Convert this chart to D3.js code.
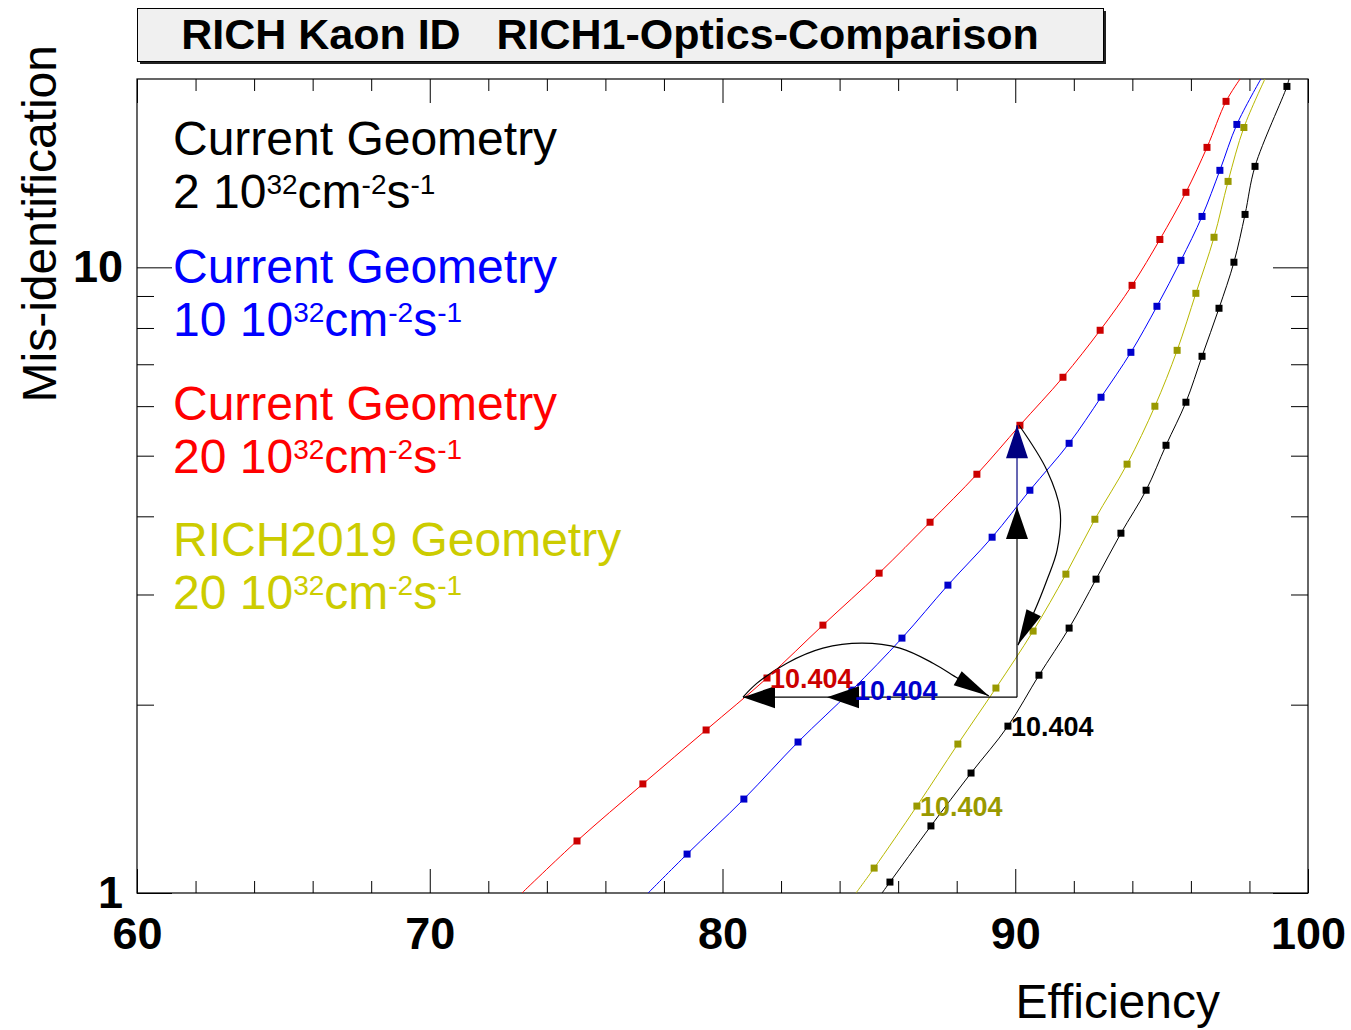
<!DOCTYPE html>
<html>
<head>
<meta charset="utf-8">
<script src="https://cdn.jsdelivr.net/npm/d3@7"></script>
<style>
  body { margin: 0; background: #fff; }
  svg text { font-family: "Liberation Sans", Arial, Helvetica, sans-serif; }
</style>
</head>
<body>
<script>
// efficiency (%) and mis-identification (%)
const blackEff = [85.72, 87.12, 88.49, 89.75, 90.81, 91.84, 92.76, 93.61, 94.47, 95.15, 95.83, 96.38, 96.96, 97.47, 97.85, 98.19, 99.28]
const blackMis = [1.041, 1.280, 1.555, 1.848, 2.229, 2.651, 3.174, 3.759, 4.403, 5.195, 6.087, 7.208, 8.602, 10.19, 12.15, 14.50, 19.46]
const blackEdge = [[85.45, 1], [99.35, 20]]

const blueEff = [78.79, 80.73, 82.58, 84.42, 86.13, 87.70, 89.21, 90.50, 91.84, 92.93, 93.95, 94.84, 95.66, 96.38, 96.99, 97.57]
const blueMis = [1.154, 1.413, 1.743, 2.110, 2.555, 3.105, 3.704, 4.403, 5.233, 6.200, 7.314, 8.664, 10.26, 12.06, 14.29, 16.92]
const blueEdge = [[77.46, 1], [98.39, 20]]

const redEff = [75.03, 77.28, 79.44, 81.52, 83.43, 85.35, 87.09, 88.69, 90.16, 91.63, 92.90, 93.99, 94.94, 95.83, 96.55, 97.20]
const redMis = [1.211, 1.494, 1.822, 2.206, 2.680, 3.245, 3.914, 4.670, 5.592, 6.673, 7.933, 9.359, 11.08, 13.18, 15.55, 18.42]
const redEdge = [[73.15, 1], [97.68, 20]]

const yelEff = [85.18, 86.64, 88.04, 89.34, 90.61, 91.73, 92.72, 93.82, 94.77, 95.53, 96.17, 96.79, 97.27, 97.81]
const yelMis = [1.096, 1.377, 1.730, 2.126, 2.622, 3.233, 3.957, 4.846, 5.998, 7.368, 9.088, 11.17, 13.72, 16.73]
const yelEdge = [[84.56, 1], [98.53, 20]]

const pointLabel = "10.404"
const labelIndex = [3, 3, 3, 1]   // black, blue, red, yellow

const legendTitles = ["Current Geometry", "Current Geometry", "Current Geometry", "RICH2019 Geometry"]
const legendLumi = ["2", "10", "20", "20"]

const xMajor = [60, 70, 80, 90, 100]
const xMinor = [62, 64, 66, 68, 72, 74, 76, 78, 82, 84, 86, 88, 92, 94, 96, 98]
const yMajor = [1, 10]
const yMinor = [2, 3, 4, 5, 6, 7, 8, 9]

// comparison arrows at 90% efficiency
const arrowEff = 90.06
const arrowMis = 2.056
const hArrowTips = [80.70, 83.57]
const vBlackTop = 4.138
const vNavyTop = 5.592
const curveDown = [[90.13, 5.592], [91.08, 4.740], [91.53, 4.091], [91.43, 3.531], [91.08, 3.162], [90.64, 2.811], [90.09, 2.490]]
const curveRight = [[80.70, 2.056], [81.18, 2.165], [82.20, 2.330], [83.43, 2.462], [84.77, 2.508], [86.06, 2.462], [87.19, 2.330], [88.06, 2.201], [89.10, 2.064]]

const W = 1351, H = 1030
const fL = 137, fR = 1308, fT = 79, fB = 893

const x = d3.scaleLinear().domain([60, 100]).range([fL, fR])
const y = d3.scaleLog().domain([1, 20]).range([fB, fT])

const svg = d3.select("body").append("svg").attr("width", W).attr("height", H)

// title box
svg.append("rect").attr("x", 140).attr("y", 11).attr("width", 966).attr("height", 53).attr("fill", "#222")
svg.append("rect").attr("x", 137.5).attr("y", 8.5).attr("width", 966).attr("height", 53)
  .attr("fill", "#f0f0f0").attr("stroke", "#000").attr("stroke-width", 1)
svg.append("text").attr("x", 610).attr("y", 49).attr("text-anchor", "middle")
  .attr("font-size", 43).attr("font-weight", "bold").style("white-space", "pre")
  .text("RICH Kaon ID   RICH1-Optics-Comparison")

svg.append("defs").append("clipPath").attr("id", "frame")
  .append("rect").attr("x", fL).attr("y", fT).attr("width", fR - fL).attr("height", fB - fT)

// axes with inward ticks
function tickAxis(axis, pad, vals, size, tr, labels) {
  const g = svg.append("g").attr("transform", tr)
    .call(axis.tickValues(vals).tickSize(size).tickPadding(pad).tickFormat(labels ? d3.format("d") : ""))
  g.select(".domain").remove()
  g.selectAll("line").attr("stroke", "#000")
  g.selectAll("text").attr("font-size", 45).attr("font-weight", "bold").attr("fill", "#000")
    .attr("font-family", "Liberation Sans, Arial, sans-serif")
  return g
}
tickAxis(d3.axisBottom(x), 24, xMajor, -24, `translate(0,${fB})`, true)
tickAxis(d3.axisBottom(x), 0, xMinor, -12, `translate(0,${fB})`, false)
tickAxis(d3.axisTop(x), 0, xMajor, -24, `translate(0,${fT})`, false)
tickAxis(d3.axisTop(x), 0, xMinor, -12, `translate(0,${fT})`, false)
tickAxis(d3.axisLeft(y), 14, yMajor, -35, `translate(${fL},0)`, true)
tickAxis(d3.axisLeft(y), 0, yMinor, -17, `translate(${fL},0)`, false)
tickAxis(d3.axisRight(y), 0, yMajor, -35, `translate(${fR},0)`, false)
tickAxis(d3.axisRight(y), 0, yMinor, -17, `translate(${fR},0)`, false)

svg.append("rect").attr("x", fL).attr("y", fT).attr("width", fR - fL).attr("height", fB - fT)
  .attr("fill", "none").attr("stroke", "#000").attr("stroke-width", 1.2)

svg.append("text").attr("transform", "translate(56,45) rotate(-90)").attr("text-anchor", "end")
  .attr("font-size", 48).text("Mis-identification")
svg.append("text").attr("x", 1220).attr("y", 1018).attr("text-anchor", "end")
  .attr("font-size", 48).text("Efficiency")

// series
const series = [
  { eff: blackEff, mis: blackMis, edge: blackEdge, line: "#000000", mark: "#000000", text: "#000000", label: "#000000" },
  { eff: blueEff, mis: blueMis, edge: blueEdge, line: "#0000ff", mark: "#0000cc", text: "#0000ff", label: "#0000cc" },
  { eff: redEff, mis: redMis, edge: redEdge, line: "#ff0000", mark: "#cc0000", text: "#ff0000", label: "#cc0000" },
  { eff: yelEff, mis: yelMis, edge: yelEdge, line: "#b8b800", mark: "#999900", text: "#cccc00", label: "#999900" }
]
series.forEach((s, i) => {
  s.pts = s.eff.map((e, k) => [e, s.mis[k]])
  s.labelAt = labelIndex[i]
})

const line = d3.line().x(d => x(d[0])).y(d => y(d[1])).curve(d3.curveCatmullRom.alpha(0.5))
const plot = svg.append("g").attr("clip-path", "url(#frame)")

plot.selectAll("path.series").data(series).enter().append("path")
  .attr("class", "series")
  .attr("d", s => line([s.edge[0], ...s.pts, s.edge[1]]))
  .attr("fill", "none").attr("stroke", s => s.line).attr("stroke-width", 1)

series.forEach(s => {
  plot.append("g").selectAll("rect").data(s.pts).enter().append("rect")
    .attr("x", d => x(d[0]) - 3.5).attr("y", d => y(d[1]) - 3.5)
    .attr("width", 7).attr("height", 7).attr("fill", s.mark)
})

// arrows
function head(g, tip, from, len, hw, col) {
  const dx = tip[0] - from[0], dy = tip[1] - from[1]
  const n = Math.hypot(dx, dy), ux = dx / n, uy = dy / n
  const bx = tip[0] - ux * len, by = tip[1] - uy * len
  g.append("path")
    .attr("d", `M${tip[0]},${tip[1]}L${bx - uy * hw},${by + ux * hw}L${bx + uy * hw},${by - ux * hw}Z`)
    .attr("fill", col)
}
const ann = svg.append("g")
const px = d => [x(d[0]), y(d[1])]

ann.append("line").attr("x1", x(arrowEff)).attr("x2", x(hArrowTips[0]))
  .attr("y1", y(arrowMis)).attr("y2", y(arrowMis)).attr("stroke", "#000").attr("stroke-width", 1.2)
hArrowTips.forEach(t => head(ann, px([t, arrowMis]), px([t + 1, arrowMis]), 32, 11, "#000"))

ann.append("line").attr("x1", x(arrowEff)).attr("x2", x(arrowEff))
  .attr("y1", y(arrowMis)).attr("y2", y(vBlackTop)).attr("stroke", "#000").attr("stroke-width", 1.2)
head(ann, px([arrowEff, vBlackTop]), px([arrowEff, arrowMis]), 32, 11, "#000")
ann.append("line").attr("x1", x(arrowEff)).attr("x2", x(arrowEff))
  .attr("y1", y(vBlackTop)).attr("y2", y(vNavyTop)).attr("stroke", "#000080").attr("stroke-width", 1.2)
head(ann, px([arrowEff, vNavyTop]), px([arrowEff, vBlackTop]), 33, 11, "#000080")

const smooth = d3.line().x(d => x(d[0])).y(d => y(d[1])).curve(d3.curveCatmullRom.alpha(0.5))
;[curveDown, curveRight].forEach(c => {
  ann.append("path").attr("d", smooth(c)).attr("fill", "none").attr("stroke", "#000").attr("stroke-width", 1.2)
  head(ann, px(c[c.length - 1]), px(c[c.length - 2]), 36, 8, "#000")
})

// point labels
series.forEach(s => {
  const p = s.pts[s.labelAt]
  svg.append("text").attr("x", x(p[0]) + 3).attr("y", y(p[1])).attr("dy", "0.36em")
    .attr("font-size", 27).attr("font-weight", "bold").attr("fill", s.label).text(pointLabel)
})

// legend
const legY = [155, 283, 420, 556]
series.forEach((s, i) => {
  svg.append("text").attr("x", 173).attr("y", legY[i]).attr("font-size", 48).attr("fill", s.text)
    .text(legendTitles[i])
  const t = svg.append("text").attr("x", 173).attr("y", legY[i] + 53).attr("font-size", 48).attr("fill", s.text)
  t.append("tspan").text(legendLumi[i] + " 10")
  t.append("tspan").attr("font-size", 28).attr("dy", -14).text("32")
  t.append("tspan").attr("dy", 14).text("cm")
  t.append("tspan").attr("font-size", 28).attr("dy", -14).text("-2")
  t.append("tspan").attr("dy", 14).text("s")
  t.append("tspan").attr("font-size", 28).attr("dy", -14).text("-1")
})
</script>
</body>
</html>
